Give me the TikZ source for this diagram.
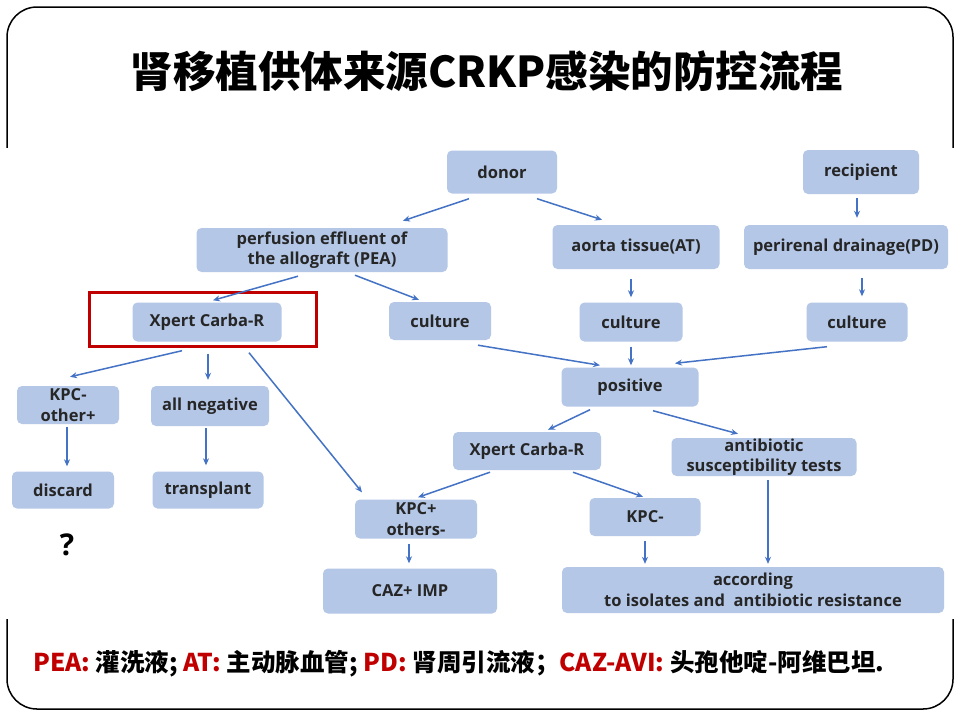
\documentclass[tikz,border=0pt]{standalone}
\usepackage{fontspec}
\setsansfont{Open Sans}
\newfontfamily\cjk{Noto Sans CJK SC}
\usetikzlibrary{calc,arrows.meta}
\definecolor{boxblue}{RGB}{180,199,231}
\definecolor{arrblue}{RGB}{68,114,196}
\definecolor{darkred}{RGB}{192,0,0}
\tikzset{
  box/.style={fill=boxblue, rounded corners=5pt, inner sep=0pt, align=center,
    text=black!85, font=\sffamily\bfseries\fontsize{16.5}{20.5}\selectfont},
  arr/.style={->, arrblue, line width=1.5pt},
}
\begin{document}
\begin{tikzpicture}[x=1pt, y=-1pt, >={Stealth[length=7pt,width=6pt]}]
\useasboundingbox (0,0) rectangle (960,720);
%% frame
\draw[line width=1.5pt, rounded corners=30pt] (7,7) rectangle (953,709);
\fill[white] (0,148) rectangle (960,619);
\node[font=\cjk\bfseries\fontsize{42.5}{50}\selectfont] (title) at (487,71) {肾移植供体来源CRKP感染的防控流程};
%% donor side
\node[box, minimum width=110, minimum height=43] (donor) at (502,172) {donor};
\node[box, minimum width=251, minimum height=44] (pea) at (322,250) {perfusion effluent of\\the allograft (PEA)};
\node[box, minimum width=167, minimum height=44] (at) at (636,247) {aorta tissue(AT)};
\node[box, minimum width=102, minimum height=38] (culpea) at (440,321) {culture};
\node[box, minimum width=103, minimum height=39] (culat) at (631,322) {culture};
%% recipient side
\node[box, minimum width=116, minimum height=44] (recipient) at (861,172) {recipient};
\node[box, minimum width=204, minimum height=44] (pd) at (846,247) {perirenal drainage(PD)};
\node[box, minimum width=101, minimum height=39] (culpd) at (857,322) {culture};
\node[box, minimum width=137, minimum height=39] (pos) at (630,387) {positive};
%% rapid test
\node[box, minimum width=149, minimum height=39] (xpertA) at (207,322) {Xpert Carba-R};
\draw[darkred, line width=3pt] (89,292) rectangle (316,346);
\node[box, minimum width=102, minimum height=38] (kpcoth) at (68,405) {KPC-\\other+};
\node[box, minimum width=118, minimum height=40] (allneg) at (210,406) {all negative};
\node[box, minimum width=102, minimum height=37] (discard) at (63,490) {discard};
\node[box, minimum width=111, minimum height=37] (transplant) at (208,490) {transplant};
\node[font=\sffamily\bfseries\fontsize{30}{32}\selectfont] (qmark) at (67,545) {?};
%% positive branch
\node[box, minimum width=148, minimum height=38] (xpertB) at (527,451) {Xpert Carba-R};
\node[box, minimum width=185, minimum height=38] (ast) at (764,457) {antibiotic\\susceptibility tests};
\node[box, minimum width=122, minimum height=39] (kpcplus) at (416,519) {KPC+\\others-};
\node[box, minimum width=111, minimum height=38] (kpcminus) at (645,517) {KPC-};
\node[box, minimum width=174, minimum height=45] (caz) at (410,591) {CAZ+ IMP};
\node[box, minimum width=382, minimum height=46] (accord) at (753,590) {according\\to isolates and\ \ antibiotic resistance};
%% arrows
\draw[arr] ($(donor.south)+(-33,5)$) -- ($(pea.north)+(81,-7)$);
\draw[arr] ($(donor.south)+(35,5)$) -- ($(at.north)+(-34,-5)$);
\draw[arr] ($(recipient.south)+(-4,4)$) -- ($(pd.north)+(11,-7)$);
\draw[arr] ($(pea.south)+(-24,4)$) -- ($(xpertA.north)+(6,-2)$);
\draw[arr] ($(pea.south)+(33,3)$) -- ($(culpea.north)+(-21,-2)$);
\draw[arr] ($(at.south)+(-5,10)$) -- ($(culat.north)+(0,-5)$);
\draw[arr] ($(pd.south)+(16,9)$) -- ($(culpd.north)+(5,-6)$);
\draw[arr] ($(culpea.south)+(38,5)$) -- ($(pos.north)+(-30,-2)$);
\draw[arr] ($(culat.south)+(0,5)$) -- ($(pos.north)+(1,-2)$);
\draw[arr] ($(culpd.south)+(-30,5)$) -- ($(pos.north)+(45,-4)$);
\draw[arr] ($(pos.south)+(-40,3)$) -- ($(xpertB.north)+(21,-2)$);
\draw[arr] ($(pos.south)+(23,4)$) -- ($(ast.north)+(-26,-4)$);
\draw[arr] ($(xpertB.south)+(-37,2)$) -- ($(kpcplus.north)+(2,-2)$);
\draw[arr] ($(xpertB.south)+(46,2)$) -- ($(kpcminus.north)+(-2,-1)$);
\draw[arr] ($(kpcplus.south)+(-7,5)$) -- ($(caz.north)+(-1,-5)$);
\draw[arr] ($(kpcminus.south)+(0,5)$) -- ($(accord.north)+(-108,-3)$);
\draw[arr] ($(ast.south)+(4,4)$) -- ($(accord.north)+(15,-3)$);
\draw[arr] ($(xpertA.south)+(-25,9)$) -- ($(kpcoth.north)+(2,-9)$);
\draw[arr] ($(xpertA.south)+(1,12)$) -- ($(allneg.north)+(-2,-6)$);
\draw[arr] ($(xpertA.south)+(42,11)$) -- ($(kpcplus.north)+(-54,-7)$);
\draw[arr] ($(kpcoth.south)+(-1,3)$) -- ($(discard.north)+(4,-5)$);
\draw[arr] ($(allneg.south)+(-4,2)$) -- ($(transplant.north)+(-2,-6)$);
%% legend
\node[anchor=west, inner sep=0pt, font=\cjk\bfseries\fontsize{24.5}{28}\selectfont] (legend) at (33,664)
  {\textcolor{darkred}{PEA:} 灌洗液; \textcolor{darkred}{AT:} 主动脉血管; \textcolor{darkred}{PD:} 肾周引流液；\textcolor{darkred}{CAZ-AVI:} 头孢他啶-阿维巴坦.};
\end{tikzpicture}
\end{document}
